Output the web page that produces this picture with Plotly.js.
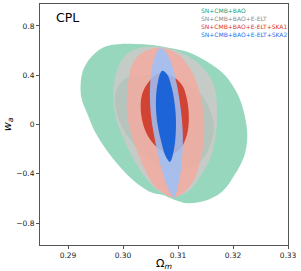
<!DOCTYPE html>
<html>
<head>
<meta charset="utf-8">
<script src="https://cdn.plot.ly/plotly-3.0.1.min.js"></script>
<style>html,body{margin:0;padding:0;background:#fff;}#plot{width:301px;height:271px;}</style>
</head>
<body>
<div id="plot"></div>
<script>
// Contour outlines (Omega_m, w_a)
const greenOuterX = [0.2991,0.3022,0.3053,0.3085,0.3118,0.3154,0.3185,0.3209,0.3221,0.3226,0.3221,0.3203,0.3180,0.3149,0.3118,0.3094,0.3071,0.3053,0.3022,0.2991,0.2967,0.2949,0.2936,0.2924,0.2925,0.2934,0.2949,0.2967,0.2991];
const greenOuterY = [0.652,0.654,0.646,0.622,0.589,0.508,0.403,0.241,0.078,-0.084,-0.246,-0.408,-0.546,-0.619,-0.638,-0.611,-0.570,-0.554,-0.465,-0.327,-0.189,-0.059,0.078,0.224,0.403,0.500,0.579,0.632,0.652];
const greenInnerX = [0.30242,0.30612,0.31004,0.31407,0.31625,0.31654,0.31516,0.31190,0.30863,0.30427,0.30100,0.29911,0.29860,0.29991,0.30242];
const greenInnerY = [0.399,0.396,0.362,0.251,0.056,-0.041,-0.236,-0.363,-0.358,-0.270,-0.105,0.056,0.250,0.356,0.399];
const greyOuterX = [0.30489,0.30943,0.31360,0.31633,0.31705,0.31700,0.31609,0.31427,0.31184,0.30924,0.30707,0.30520,0.30247,0.30035,0.29871,0.29822,0.29890,0.30035,0.30235,0.30489];
const greyOuterY = [0.634,0.605,0.500,0.346,0.184,-0.027,-0.246,-0.408,-0.544,-0.587,-0.555,-0.489,-0.327,-0.138,0.054,0.241,0.443,0.557,0.613,0.634];
const greyInnerX = [0.30670,0.31033,0.31251,0.31342,0.31288,0.31124,0.30888,0.30580,0.30344,0.30198,0.30198,0.30344,0.30670];
const greyInnerY = [0.403,0.362,0.241,0.054,-0.125,-0.271,-0.352,-0.327,-0.205,-0.027,0.159,0.314,0.403];
const redOuterX = [0.30707,0.30997,0.31233,0.31396,0.31469,0.31469,0.31396,0.31269,0.31070,0.30906,0.30725,0.30580,0.30398,0.30247,0.30126,0.30071,0.30089,0.30144,0.30253,0.30452,0.30707];
const redOuterY = [0.622,0.573,0.443,0.265,0.054,-0.124,-0.311,-0.465,-0.563,-0.591,-0.554,-0.503,-0.368,-0.205,-0.043,0.103,0.322,0.459,0.548,0.605,0.622];
const redInnerX = [0.30634,0.30888,0.31070,0.31161,0.31197,0.31161,0.31052,0.30888,0.30707,0.30525,0.30398,0.30325,0.30344,0.30452,0.30634];
const redInnerY = [0.411,0.394,0.322,0.208,0.054,-0.084,-0.189,-0.238,-0.214,-0.141,-0.043,0.103,0.241,0.338,0.411];
const blueOuterX = [0.30670,0.30761,0.30870,0.30979,0.31052,0.31088,0.31070,0.31015,0.30924,0.30834,0.30707,0.30598,0.30507,0.30489,0.30525,0.30598,0.30670];
const blueOuterY = [0.622,0.597,0.508,0.322,0.119,-0.084,-0.289,-0.465,-0.587,-0.530,-0.368,-0.165,0.078,0.281,0.459,0.573,0.622];
const blueInnerX = [0.30707,0.30797,0.30888,0.30952,0.30961,0.30925,0.30852,0.30780,0.30688,0.30616,0.30598,0.30634,0.30707];
const blueInnerY = [0.435,0.411,0.297,0.119,-0.043,-0.206,-0.303,-0.262,-0.125,0.038,0.200,0.346,0.435];

const seriesNames = ['SN+CMB+BAO','SN+CMB+BAO+E-ELT','SN+CMB+BAO+E-ELT+SKA1','SN+CMB+BAO+E-ELT+SKA2'];
const xTicks = [0.29,0.30,0.31,0.32,0.33];
const xTickText = ['0.29','0.30','0.31','0.32','0.33'];
const yTicks = [-0.8,-0.4,0,0.4,0.8];
const yTickText = ['\u22120.8','\u22120.4','0','0.4','0.8'];

const nameColors = ['#1a9e72','#8a8a8a','#e03424','#1e6fed'];

function shape(x, y, fill, name) {
  return {x: x, y: y, type: 'scatter', mode: 'lines', fill: 'toself',
    fillcolor: fill, line: {width: 0, shape: 'spline', smoothing: 1}, name: name,
    hoverinfo: 'skip', showlegend: false};
}

const data = [
  shape(greenOuterX, greenOuterY, 'rgba(133,208,179,0.85)', seriesNames[0]),
  shape(greenInnerX, greenInnerY, 'rgba(0,145,96,0.85)', seriesNames[0]),
  shape(greyOuterX, greyOuterY, 'rgba(204,201,200,0.88)', seriesNames[1]),
  shape(greyInnerX, greyInnerY, 'rgba(185,185,185,0.85)', seriesNames[1]),
  shape(redOuterX, redOuterY, 'rgba(243,172,160,0.85)', seriesNames[2]),
  shape(redInnerX, redInnerY, 'rgba(205,48,32,0.85)', seriesNames[2]),
  shape(blueOuterX, blueOuterY, 'rgba(155,193,248,0.85)', seriesNames[3]),
  shape(blueInnerX, blueInnerY, 'rgba(10,90,215,0.88)', seriesNames[3])
];

const legendY = [0.972, 0.939, 0.906, 0.873];
const annotations = [{
  text: 'CPL', xref: 'paper', yref: 'paper', x: 0.056, y: 0.944,
  xanchor: 'left', yanchor: 'middle', showarrow: false,
  font: {family: 'DejaVu Sans', size: 12.5, color: '#000'}
}];
seriesNames.forEach((n, i) => annotations.push({
  text: n, xref: 'paper', yref: 'paper', x: 0.64, y: legendY[i],
  xanchor: 'left', yanchor: 'middle', showarrow: false,
  font: {family: 'DejaVu Sans', size: 6, color: nameColors[i]}
}));

const axisCommon = {
  showline: true, mirror: true, linecolor: '#555', linewidth: 1,
  ticks: 'outside', ticklen: 3, tickwidth: 1, tickcolor: '#555',
  showgrid: false, zeroline: false, tickmode: 'array',
  tickfont: {family: 'DejaVu Sans', size: 7.5, color: '#222'}
};

const layout = {
  width: 301, height: 271,
  margin: {l: 40, r: 13, t: 4, b: 26, pad: 0},
  paper_bgcolor: '#fff', plot_bgcolor: '#fff',
  showlegend: false,
  xaxis: Object.assign({}, axisCommon, {
    range: [0.2849, 0.33], tickvals: xTicks, ticktext: xTickText,
    title: {text: '\u03a9<sub><i>m</i></sub>', font: {family: 'DejaVu Sans', size: 11, color: '#000'}, standoff: 2}
  }),
  yaxis: Object.assign({}, axisCommon, {
    range: [-0.977, 0.978], tickvals: yTicks, ticktext: yTickText,
    title: {text: '<i>w</i><sub><i>a</i></sub>', font: {family: 'DejaVu Sans', size: 11, color: '#000'}, standoff: 2}
  }),
  annotations: annotations
};

Plotly.newPlot('plot', data, layout, {displayModeBar: false, staticPlot: true});
</script>
</body>
</html>
